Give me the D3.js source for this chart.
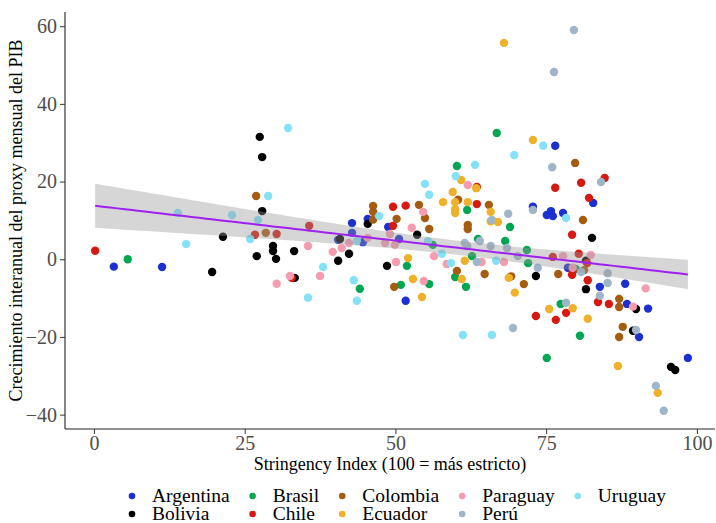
<!DOCTYPE html>
<html>
<head>
<meta charset="utf-8">
<script src="https://cdn.jsdelivr.net/npm/d3@7"></script>
<style>
  body { margin: 0; background: #fff; }
  svg { display: block; font-family: "Liberation Serif", "DejaVu Serif", serif; }
</style>
</head>
<body>
<svg id="chart" width="716" height="523"></svg>
<script>
// Country names (legend order) and colours
const countries = ['Argentina', 'Bolivia', 'Brasil', 'Chile', 'Colombia', 'Ecuador', 'Paraguay', 'Perú', 'Uruguay'];
const colors = ['#1c2fd1', '#000000', '#00a651', '#d7190f', '#a65c10', '#efb129', '#f79cb0', '#9fb6ca', '#85e1f7'];

// [stringency index, growth]
const argentina = [[3.3,-1.9],[11.3,-2.0],[42.8,9.3],[40.5,5.0],[42.8,6.8],[44.6,4.4],[45.4,10.4],[48.8,8.3],[50.6,5.2],[51.7,-10.7],[72.8,13.5],[75.1,11.4],[75.8,12.4],[76.1,11.1],[77.8,11.9],[76.5,29.2],[82.8,14.5],[78.6,-2.2],[83.9,-7.1],[88.1,-6.3],[88.4,-11.5],[91.9,-12.7],[90.4,-20.0],[98.5,-25.4]];
const bolivia = [[27.5,31.5],[27.9,26.3],[27.9,12.4],[19.6,-3.3],[21.4,5.8],[29.7,3.4],[29.7,2.1],[27.0,0.8],[30.2,0.1],[33.2,2.1],[33.3,-4.8],[40.5,-0.4],[40.8,5.2],[42.3,1.4],[45.4,9.1],[48.6,-1.7],[53.6,6.3],[73.3,-4.3],[82.6,5.5],[81.6,-0.4],[81.6,-7.7],[89.9,-12.8],[89.4,-18.4],[95.7,-27.7],[96.4,-28.5]];
const brasil = [[5.6,0.0],[44.1,-7.6],[51.9,-1.7],[50.9,-6.6],[55.6,-6.4],[56.2,3.7],[59.9,-4.6],[61.7,-7.1],[60.2,24.0],[61.9,12.7],[62.7,0.8],[63.7,5.2],[66.8,32.5],[69.0,8.3],[68.2,4.7],[71.8,2.4],[72.0,-1.0],[79.9,-2.5],[77.4,-11.5],[80.6,-19.7],[75.1,-25.4]];
const chile = [[0.2,2.2],[26.7,6.3],[30.3,6.5],[35.7,8.6],[32.8,-4.8],[49.6,13.5],[51.7,13.8],[49.6,8.6],[63.5,18.6],[63.5,14.2],[76.5,18.4],[80.8,19.7],[84.7,20.9],[82.1,15.8],[79.3,6.3],[80.4,1.4],[76.1,0.6],[79.3,-4.0],[79.4,-3.0],[81.8,-1.0],[81.9,-5.4],[83.6,-11.0],[85.4,-11.5],[78.3,-13.8],[73.3,-14.6],[76.6,-15.6]];
const colombia = [[26.9,16.3],[28.5,6.8],[46.3,13.7],[46.3,12.2],[46.3,10.2],[50.2,10.4],[53.9,14.0],[54.9,10.6],[55.6,7.8],[49.8,-7.1],[60.2,-3.0],[60.4,15.3],[62.0,8.8],[62.0,7.8],[65.5,14.0],[64.8,-3.8],[69.2,-4.4],[71.3,-6.4],[77.0,-3.8],[79.8,24.8],[81.1,10.1],[81.3,-2.8],[87.1,-10.2],[87.1,-12.3],[87.7,-17.4],[87.1,-20.0]];
const ecuador = [[52.1,0.3],[52.9,-5.1],[54.4,-9.7],[57.9,14.7],[59.5,17.3],[59.9,14.7],[59.9,12.9],[59.9,11.9],[60.9,20.4],[62.0,14.7],[63.4,18.3],[61.0,-5.1],[61.5,-0.4],[65.8,12.2],[65.8,9.8],[67.0,9.6],[68.0,55.7],[72.8,30.7],[68.8,-4.8],[69.8,-8.6],[75.5,-12.8],[79.4,-12.6],[81.9,-15.3],[86.9,-27.5],[93.5,-34.4]];
const paraguay = [[30.3,-6.3],[32.5,-4.3],[35.5,3.4],[37.5,-4.3],[39.6,1.9],[41.1,2.9],[42.3,4.2],[45.4,5.5],[48.3,4.2],[49.1,6.5],[49.9,3.7],[50.1,-0.7],[52.7,8.1],[54.6,12.2],[54.7,-5.6],[56.4,0.8],[58.5,-1.2],[62.0,19.1],[64.3,-0.7],[68.0,-0.7],[77.8,0.8],[79.4,-2.2],[82.4,1.1],[89.4,-12.2],[91.5,-7.5]];
const peru = [[61.5,4.2],[61.9,3.4],[63.5,-0.7],[64.0,4.7],[65.8,3.4],[66.0,10.1],[68.5,2.9],[68.7,11.7],[70.3,0.8],[72.8,12.7],[73.6,-2.2],[69.5,-17.7],[76.0,23.7],[76.3,48.2],[79.6,59.0],[84.1,19.9],[80.8,-3.3],[78.3,-11.2],[83.9,-9.4],[85.2,-3.6],[85.2,-6.1],[89.9,-18.2],[93.2,-32.6],[94.5,-39.0]];
const uruguay = [[13.9,11.9],[15.3,3.9],[22.9,11.4],[25.9,5.2],[27.2,10.1],[28.9,16.3],[32.2,33.8],[35.5,-9.9],[38.0,-2.0],[43.1,-5.4],[43.6,-10.7],[43.6,4.7],[47.3,11.1],[54.9,19.4],[55.6,16.6],[55.4,4.7],[57.7,1.4],[59.2,-1.0],[60.0,21.4],[61.2,-19.5],[63.2,24.3],[66.7,-0.4],[66.0,-19.5],[69.7,26.8],[74.5,29.2],[78.3,10.6]];

const series = [argentina, bolivia, brasil, chile, colombia, ecuador, paraguay, peru, uruguay];
const xTicks = [0, 25, 50, 75, 100];
const yTicks = [-40, -20, 0, 20, 40, 60];

const points = series.flatMap((s, i) => s.map(d => ({ country: countries[i], x: d[0], y: d[1] })));

const svg = d3.select('#chart');
const panel = { left: 65, right: 715, top: 12, bottom: 429 };

const x = d3.scaleLinear().domain([-4.8, 103.0]).range([panel.left, panel.right]);
const y = d3.scaleLinear().domain([-43.7, 63.65]).range([panel.bottom, panel.top]);
const color = d3.scaleOrdinal().domain(countries).range(colors);

// Points first, the ribbon goes on top of them (like geom_smooth)
svg.append('g')
    .selectAll('circle')
    .data(points)
    .join('circle')
    .attr('cx', d => x(d.x))
    .attr('cy', d => y(d.y))
    .attr('r', 4.2)
    .attr('fill', d => color(d.country));

// Linear fit with 95% confidence band
const n = points.length;
const mx = d3.mean(points, d => d.x);
const my = d3.mean(points, d => d.y);
const sxx = d3.sum(points, d => (d.x - mx) ** 2);
const sxy = d3.sum(points, d => (d.x - mx) * (d.y - my));
const slope = sxy / sxx;
const intercept = my - slope * mx;
const sse = d3.sum(points, d => (d.y - intercept - slope * d.x) ** 2);
const sigma = Math.sqrt(sse / (n - 2));
const tq = 1.972;
const [xmin, xmax] = d3.extent(points, d => d.x);
const fit = d3.range(81).map(i => {
    const xv = xmin + (xmax - xmin) * i / 80;
    const yv = intercept + slope * xv;
    const se = sigma * Math.sqrt(1 / n + (xv - mx) ** 2 / sxx);
    return { x: xv, y: yv, lo: yv - tq * se, hi: yv + tq * se };
});

svg.append('path')
    .datum(fit)
    .attr('fill', '#999999')
    .attr('fill-opacity', 0.4)
    .attr('d', d3.area().x(d => x(d.x)).y0(d => y(d.lo)).y1(d => y(d.hi)));

svg.append('path')
    .datum(fit)
    .attr('fill', 'none')
    .attr('stroke', '#a020f0')
    .attr('stroke-width', 2)
    .attr('d', d3.line().x(d => x(d.x)).y(d => y(d.y)));

// Axes
const xAxis = svg.append('g')
    .attr('transform', `translate(0,${panel.bottom})`)
    .call(d3.axisBottom(x).tickValues(xTicks).tickSize(5).tickPadding(2).tickSizeOuter(0));
const yAxis = svg.append('g')
    .attr('transform', `translate(${panel.left},0)`)
    .call(d3.axisLeft(y).tickValues(yTicks).tickSize(5).tickPadding(3).tickSizeOuter(0)
        .tickFormat(d => d < 0 ? '\u2212' + Math.abs(d) : d));

[xAxis, yAxis].forEach(a => {
    a.select('.domain').attr('stroke', '#222').attr('stroke-width', 1.1);
    a.selectAll('.tick line').attr('stroke', '#333');
    a.selectAll('.tick text')
        .attr('fill', '#4d4d4d')
        .style('font-family', '"Liberation Serif", serif')
        .style('font-size', '20px');
});
xAxis.select('.domain').attr('d', `M${panel.left},0H${panel.right}`);
yAxis.select('.domain').attr('d', `M0,${panel.top}V${panel.bottom}`);

// Axis titles
svg.append('text')
    .attr('x', (panel.left + panel.right) / 2)
    .attr('y', 470)
    .attr('text-anchor', 'middle')
    .style('font-size', '18px')
    .text('Stringency Index (100 = más estricto)');

svg.append('text')
    .attr('transform', `translate(22,${(panel.top + panel.bottom) / 2}) rotate(-90)`)
    .attr('text-anchor', 'middle')
    .style('font-size', '18px')
    .text('Crecimiento interanual del proxy mensual del PIB');

// Legend: 5 columns, 2 rows, filled by column
const legend = svg.append('g');
let colX = 132;
for (let c = 0; c < 5; c++) {
    const items = countries.slice(c * 2, c * 2 + 2);
    let maxW = 0;
    items.forEach((name, r) => {
        const g = legend.append('g').attr('transform', `translate(${colX},${496 + r * 18})`);
        g.append('circle').attr('r', 3.3).attr('fill', color(name));
        const t = g.append('text')
            .attr('x', 20)
            .attr('y', 5.5)
            .style('font-size', '19.5px')
            .text(name);
        maxW = Math.max(maxW, t.node().getComputedTextLength());
    });
    colX += maxW + 43;
}
</script>
</body>
</html>
